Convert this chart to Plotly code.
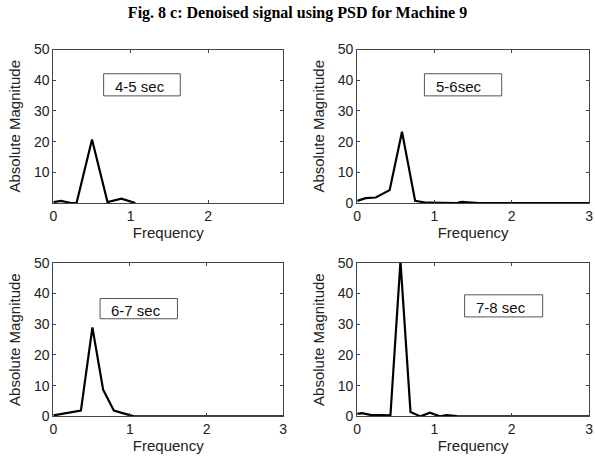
import plotly.graph_objects as go

# ---- data ----
labels = ["4-5 sec", "5-6sec", "6-7 sec", "7-8 sec"]

x1 = [0.0, 0.1, 0.23, 0.3, 0.5, 0.7, 0.88, 1.06]
y1 = [0.3, 0.7, 0.0, 0.0, 20.7, 0.3, 1.4, 0.0]

x2 = [0.0, 0.11, 0.24, 0.42, 0.58, 0.75, 0.9, 1.03, 1.29, 1.35, 1.48, 1.57, 2.0, 2.5, 3.0]
y2 = [0.7, 1.6, 1.8, 4.2, 23.2, 0.7, 0.1, 0.0, 0.0, 0.4, 0.3, 0.0, 0.0, 0.0, 0.0]

x3 = [0.0, 0.36, 0.51, 0.65, 0.79, 1.05, 1.5, 2.0, 2.5, 3.0]
y3 = [0.3, 1.9, 29.0, 8.7, 1.9, 0.0, 0.0, 0.0, 0.0, 0.0]

x4 = [0.0, 0.06, 0.17, 0.43, 0.56, 0.69, 0.82, 0.94, 1.07, 1.16, 1.29, 1.5, 2.0, 2.5, 3.0]
y4 = [0.8, 1.05, 0.5, 0.3, 50.5, 1.4, 0.0, 1.2, 0.0, 0.4, 0.1, 0.0, 0.0, 0.0, 0.0]

xs = [x1, x2, x3, x4]
ys = [y1, y2, y3, y4]

x_ranges = [[0, 2.97], [0, 3], [0, 3], [0, 3]]
x_ticks = [[0, 1, 2], [0, 1, 2, 3], [0, 1, 2, 3], [0, 1, 2, 3]]
y_ticks = [[10, 20, 30, 40, 50], [0, 10, 20, 30, 40, 50], [0, 10, 20, 30, 40, 50], [0, 10, 20, 30, 40, 50]]

# label boxes in data coordinates: (x0, x1, y0, y1)
boxes = [(0.65, 1.64, 34.9, 42.1), (0.87, 1.87, 34.9, 42.1),
         (0.61, 1.62, 31.8, 38.4), (1.39, 2.40, 32.4, 39.6)]

W, H = 595, 463
xdom = [(50 / W, 283 / W), (358 / W, 593 / W), (50 / W, 283 / W), (358 / W, 593 / W)]
ydom = [(1 - 202 / H, 1 - 43 / H), (1 - 202 / H, 1 - 43 / H),
        (1 - 423 / H, 1 - 264 / H), (1 - 423 / H, 1 - 264 / H)]

font_family = "Liberation Sans, Arial, sans-serif"

fig = go.Figure()
layout = dict(
    width=W, height=H,
    margin=dict(l=0, r=0, t=0, b=0),
    paper_bgcolor="white", plot_bgcolor="white",
    showlegend=False,
    font=dict(family=font_family, size=14, color="#222"),
    title=dict(text="<b>Fig. 8 c: Denoised signal using PSD for Machine 9</b>",
               x=0.5, xanchor="center", y=1 - 12 / H, yanchor="middle",
               font=dict(family="Liberation Serif, Times New Roman, serif", size=16, color="black")),
)

shapes = []
annotations = []
for i in range(4):
    n = "" if i == 0 else str(i + 1)
    fig.add_trace(go.Scatter(x=xs[i], y=ys[i], mode="lines",
                             line=dict(color="black", width=2.2),
                             xaxis="x" + n, yaxis="y" + n, cliponaxis=True))
    layout["xaxis" + n] = dict(
        domain=list(xdom[i]), anchor="y" + n, range=x_ranges[i],
        tickvals=x_ticks[i], ticks="inside", ticklen=3, tickcolor="#444",
        showline=True, linecolor="#444", linewidth=1, mirror="ticks",
        showgrid=False, zeroline=False,
        tickfont=dict(size=14, color="#222"),
        title=dict(text="Frequency", font=dict(size=15, color="#222"), standoff=3),
    )
    layout["yaxis" + n] = dict(
        domain=list(ydom[i]), anchor="x" + n, range=[0, 50],
        tickvals=y_ticks[i], ticks="inside", ticklen=3, tickcolor="#444",
        showline=True, linecolor="#444", linewidth=1, mirror="ticks",
        showgrid=False, zeroline=False,
        tickfont=dict(size=14, color="#222"),
        title=dict(text="Absolute Magnitude", font=dict(size=15, color="#222"), standoff=9),
    )
    bx0, bx1, by0, by1 = boxes[i]
    shapes.append(dict(type="rect", xref="x" + n, yref="y" + n,
                       x0=bx0, x1=bx1, y0=by0, y1=by1,
                       line=dict(color="#555", width=1), fillcolor="rgba(0,0,0,0)"))
    annotations.append(dict(xref="x" + n, yref="y" + n,
                            x=bx0 + 0.12, y=(by0 + by1) / 2 - 0.6,
                            xanchor="left", yanchor="middle", showarrow=False,
                            text=labels[i], font=dict(size=15, color="#111")))

layout["shapes"] = shapes
layout["annotations"] = annotations
fig.update_layout(**layout)
fig.write_html("out.html")
